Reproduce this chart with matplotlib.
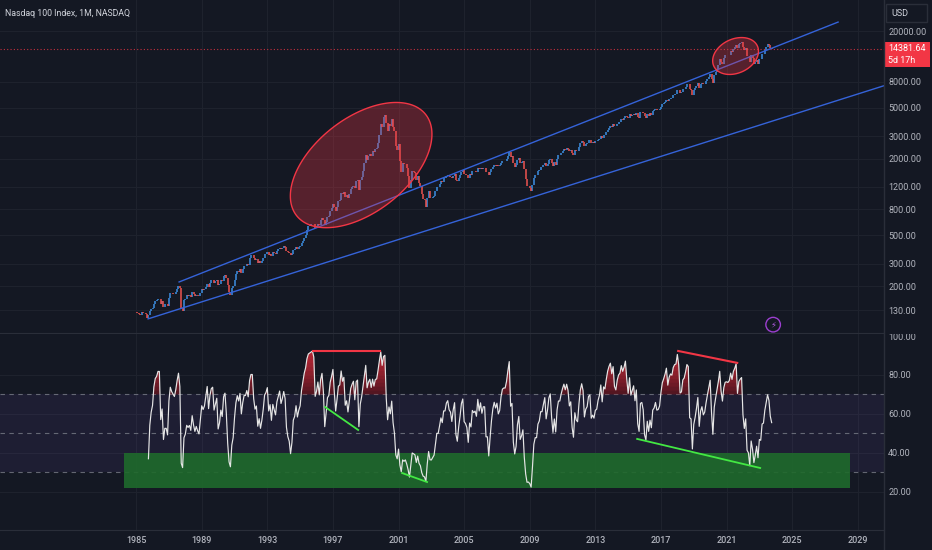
import numpy as np
import pandas as pd
import matplotlib
matplotlib.use('Agg')
import matplotlib.pyplot as plt
from matplotlib.patches import Rectangle
from matplotlib.lines import Line2D
from matplotlib.ticker import NullLocator
from matplotlib.transforms import Bbox, TransformedBbox

plt.rcParams['font.family'] = ['Roboto', 'DejaVu Sans']

title = 'Nasdaq 100 Index, 1M, NASDAQ'
first_month = '1985-01'
# monthly closes, one row per year
monthly_close = [
    125, 124, 121, 120, 125, 124, 124, 121, 113, 118, 127, 132,            # 1985
    135, 146, 153, 155, 160, 160, 146, 152, 138, 144, 144, 141,            # 1986
    163, 178, 176, 175, 174, 180, 190, 200, 195, 135, 128, 156,            # 1987
    160, 170, 168, 170, 166, 180, 173, 168, 172, 169, 167, 177,            # 1988
    189, 187, 190, 199, 210, 199, 213, 222, 224, 212, 218, 224,            # 1989
    205, 210, 222, 218, 240, 245, 232, 205, 180, 172, 192, 200,            # 1990
    225, 250, 265, 260, 275, 255, 275, 290, 290, 300, 295, 331,            # 1991
    350, 350, 330, 320, 325, 305, 315, 305, 315, 330, 355, 360,            # 1992
    370, 350, 360, 345, 370, 365, 360, 380, 390, 400, 390, 398,            # 1993
    410, 405, 380, 370, 365, 350, 360, 385, 390, 405, 395, 404,            # 1994
    410, 435, 455, 480, 500, 550, 590, 600, 610, 620, 615, 576,            # 1995
    590, 620, 605, 660, 690, 665, 600, 640, 700, 710, 780, 821,            # 1996
    880, 830, 780, 840, 930, 940, 1080, 1050, 1090, 1000, 1030, 991,       # 1997
    1060, 1160, 1200, 1230, 1170, 1340, 1360, 1140, 1350, 1440, 1600, 1836,  # 1998
    2130, 1960, 2100, 2170, 2110, 2300, 2250, 2400, 2410, 2640, 3040, 3708,  # 1999
    3570, 4270, 4400, 3770, 3320, 3760, 3610, 4080, 3570, 3280, 2510, 2342,  # 2000
    2590, 1910, 1570, 1860, 1800, 1830, 1680, 1470, 1170, 1370, 1600, 1577,  # 2001
    1550, 1360, 1450, 1280, 1220, 1050, 960, 940, 830, 990, 1120, 984,     # 2002
    980, 1000, 1020, 1110, 1200, 1200, 1260, 1330, 1300, 1400, 1400, 1468,  # 2003
    1490, 1450, 1440, 1400, 1470, 1520, 1370, 1330, 1410, 1480, 1580, 1621,  # 2004
    1510, 1500, 1480, 1400, 1510, 1490, 1600, 1590, 1600, 1580, 1690, 1645,  # 2005
    1700, 1660, 1700, 1700, 1580, 1580, 1480, 1560, 1650, 1730, 1780, 1757,  # 2006
    1790, 1750, 1770, 1860, 1920, 1930, 1930, 1980, 2090, 2240, 2060, 2085,  # 2007
    1840, 1730, 1780, 1950, 2030, 1840, 1870, 1920, 1650, 1390, 1210, 1212,  # 2008
    1180, 1110, 1240, 1420, 1480, 1480, 1600, 1630, 1720, 1720, 1790, 1860,  # 2009
    1740, 1820, 1950, 2000, 1860, 1750, 1870, 1770, 2000, 2120, 2120, 2218,  # 2010
    2300, 2370, 2340, 2420, 2390, 2310, 2350, 2200, 2130, 2340, 2290, 2278,  # 2011
    2450, 2640, 2750, 2710, 2530, 2620, 2650, 2780, 2800, 2650, 2680, 2661,  # 2012
    2730, 2740, 2820, 2870, 2990, 2910, 3090, 3080, 3220, 3380, 3500, 3592,  # 2013
    3540, 3710, 3600, 3580, 3740, 3850, 3890, 4080, 4050, 4150, 4340, 4236,  # 2014
    4150, 4460, 4330, 4420, 4510, 4400, 4590, 4270, 4180, 4650, 4670, 4593,  # 2015
    4280, 4200, 4480, 4340, 4520, 4420, 4730, 4770, 4880, 4800, 4810, 4864,  # 2016
    5100, 5330, 5440, 5580, 5790, 5650, 5880, 5990, 5980, 6250, 6370, 6396,  # 2017
    6950, 6860, 6580, 6610, 6970, 7040, 7270, 7650, 7630, 6970, 6950, 6330,  # 2018
    6900, 7100, 7380, 7780, 7130, 7670, 7850, 7660, 7750, 8080, 8400, 8733,  # 2019
    9150, 8460, 7810, 9000, 9560, 10160, 10900, 12110, 11420, 11050, 12270, 12888,  # 2020
    12930, 12910, 13090, 13860, 13690, 14550, 14960, 15580, 14690, 15850, 16140, 16320,  # 2021
    14930, 14240, 14840, 12850, 12640, 11500, 12950, 12270, 10970, 11400, 11950, 10940,  # 2022
    12100, 12040, 13180, 13250, 14250, 14950, 15750, 15500, 14720, 14381.64,  # 2023
]
last_price = 14381.64
countdown = '5d 17h'
rsi_length = 9

price_ticks = [130, 200, 300, 500, 800, 1200, 2000, 3000, 5000, 8000, 20000]
rsi_ticks = [20, 40, 60, 80]
rsi_levels = [70, 50, 30]
year_ticks = list(range(1985, 2030, 4))

# trend lines (year, price)
upper_trend_x = [1987.62, 2027.8]
upper_trend_y = [216, 23500]
lower_trend_x = [1985.73, 2031.5]
lower_trend_y = [111, 8110]

# highlighted zones: centre year, centre price, semi axes (px), tilt (deg)
zone_year = [1998.72, 2021.55]
zone_price = [1780, 12740]
zone_a = [82, 24]
zone_b = [47, 17]
zone_tilt = [38, 25]

# rsi divergence lines
red_lines = [([1995.79, 1999.88], [92.3, 92.3]),
             ([2018.05, 2021.65], [92.3, 86.2])]
green_lines = [([1996.52, 1998.54], [63.6, 51.8]),
               ([2001.22, 2002.74], [29.7, 25.1]),
               ([2015.55, 2023.05], [47.2, 32.3])]
box_years = [1984.27, 2028.5]
box_rsi = [22, 40]

BG = '#141823'
GRID = '#1e222d'
BORDER = '#2a2e39'
TXT = '#b2b5be'
UP = '#3d90e3'
DOWN = '#ef5350'
RED = '#f23645'

closes = np.array(monthly_close, dtype=float)
dates = pd.date_range(first_month, periods=len(closes), freq='MS')
xs = dates.year + (dates.month - 1) / 12.0
opens = np.concatenate([[closes[0]], closes[:-1]])


def rsi(c, n=14):
    d = np.diff(c)
    g = np.clip(d, 0, None)
    l = np.clip(-d, 0, None)
    out = np.full(len(c), np.nan)
    ag = g[:n].mean()
    al = l[:n].mean()
    out[n] = 100 - 100 / (1 + ag / al)
    for i in range(n, len(d)):
        ag = (ag * (n - 1) + g[i]) / n
        al = (al * (n - 1) + l[i]) / n
        out[i + 1] = 100 if al == 0 else 100 - 100 / (1 + ag / al)
    return out


r = rsi(closes, rsi_length)

W, H = 932, 550
fig = plt.figure(figsize=(W / 100, H / 100), dpi=100, facecolor=BG)
ax1 = fig.add_axes([0, 1 - 333 / H, 884 / W, 333 / H], facecolor=BG)
ax2 = fig.add_axes([0, 20 / H, 884 / W, 196 / H], facecolor=BG, sharex=ax1)

xmin, xmax = 1976.7, 2030.6
ymin, ymax = 86, 35000
ax1.set_xlim(xmin, xmax)
ax1.set_yscale('log')
ax1.set_ylim(ymin, ymax)
ax2.set_ylim(0.5, 101)

for ax in (ax1, ax2):
    for s in ax.spines.values():
        s.set_visible(False)
    ax.spines['bottom'].set_visible(True)
    ax.spines['bottom'].set_color(BORDER)
    ax.yaxis.tick_right()
    ax.tick_params(axis='both', length=0, labelsize=6.5, labelcolor=TXT)
    ax.grid(True, color=GRID, lw=0.8)
    ax.set_axisbelow(True)

ax1.set_xticks(year_ticks)
ax1.tick_params(axis='x', labelbottom=False)
ax1.yaxis.set_minor_locator(NullLocator())
ax1.set_yticks(price_ticks)
ax1.set_yticklabels([f'{v:.2f}' for v in price_ticks])
ax1.tick_params(axis='y', pad=3)

ax2.set_yticks(rsi_ticks)
ax2.set_yticklabels([f'{v:.2f}' for v in rsi_ticks])
ax2.tick_params(axis='y', pad=3)
ax2.tick_params(axis='x', pad=4.5)
ax2.set_xticks(year_ticks)
ax2.set_xticklabels([str(y) for y in year_ticks], fontweight='medium')

# candles (body from previous close)
up = closes >= opens
ax1.vlines(xs[up], opens[up], closes[up], colors=UP, lw=1.1, zorder=3)
ax1.vlines(xs[~up], opens[~up], closes[~up], colors=DOWN, lw=1.1, zorder=3)

# trend lines
ax1.plot(upper_trend_x, upper_trend_y, color='#3563d9', lw=1, zorder=4)
ax1.plot(lower_trend_x, lower_trend_y, color='#3563d9', lw=1, zorder=4)

# ellipses drawn in pixel space around data centres
ppy = 884 / (xmax - xmin)
ppd = 333 / (np.log10(ymax) - np.log10(ymin))
t = np.linspace(0, 2 * np.pi, 200)
for cx, cy, a, b, tilt in zip(zone_year, zone_price, zone_a, zone_b, zone_tilt):
    th = np.radians(tilt)
    dx = a * np.cos(t) * np.cos(th) - b * np.sin(t) * np.sin(th)
    dy = a * np.cos(t) * np.sin(th) + b * np.sin(t) * np.cos(th)
    ex = cx + dx / ppy
    ey = 10 ** (np.log10(cy) + dy / ppd)
    ax1.fill(ex, ey, facecolor=(0.95, 0.21, 0.27, 0.3), edgecolor=RED, lw=1, zorder=5)

# last price line
ax1.axhline(last_price, color=RED, lw=0.8, ls=(0, (1, 2)), alpha=0.8, zorder=2)

# lightning icon
ax1.scatter([2023.84], [100], s=110, facecolor='none', edgecolor='#9c3fd0', lw=1, zorder=6)
ax1.text(2023.84, 100, '\u26a1', color='#b05ae0', fontsize=6, ha='center', va='center',
         family='DejaVu Sans', zorder=7)

# rsi pane
ax2.axhspan(30, 70, color='#7e57c2', alpha=0.1, lw=0, zorder=1)
for lv in rsi_levels:
    ax2.axhline(lv, color='#787b86', lw=0.8, ls=(0, (4, 4)), alpha=0.8, zorder=2)
ax2.add_patch(Rectangle((box_years[0], box_rsi[0]), box_years[1] - box_years[0],
                        box_rsi[1] - box_rsi[0], facecolor='#1f6a2c', alpha=0.9,
                        lw=0, zorder=3))

ok = ~np.isnan(r)
rx, ry = xs[ok], r[ok]
ax2.fill_between(rx, 70, ry, where=ry > 70, interpolate=True, color='#8a1520',
                 alpha=0.55, lw=0, zorder=4)
for lv in np.arange(72, 100, 2):
    ax2.fill_between(rx, lv, ry, where=ry > lv, interpolate=True, color=RED,
                     alpha=0.09, lw=0, zorder=4)
ax2.fill_between(rx, 30, ry, where=ry < 30, interpolate=True, color='#1b5e20',
                 alpha=0.5, lw=0, zorder=4)
ax2.plot(rx, ry, color='#e6e6e6', lw=0.85, zorder=6)

for lx, ly in red_lines:
    ax2.plot(lx, ly, color=RED, lw=1.5, zorder=7)
for lx, ly in green_lines:
    ax2.plot(lx, ly, color='#43e843', lw=1.3, zorder=7)

# frame pieces outside the panes
fig.add_artist(Line2D([884 / W, 884 / W], [0, 1], color=BORDER, lw=1))
fig.text(5 / W, 1 - 13 / H, title, color='#d1d4dc', fontsize=6.3, va='center')

fig.patches.append(Rectangle((886 / W, 1 - 22 / H), 41 / W, 18 / H, transform=fig.transFigure,
                             fill=False, edgecolor=BORDER, lw=1))
fig.text(891 / W, 1 - 13 / H, 'USD', color='#d1d4dc', fontsize=6.5, va='center')

fig.patches.append(Rectangle((885 / W, 1 - 67 / H), 45 / W, 25 / H, transform=fig.transFigure,
                             facecolor=RED, edgecolor='none'))
fig.text(888 / W, 1 - 48.5 / H, f'{last_price:.2f}', color='white', fontsize=6.5, va='center')
fig.text(888 / W, 1 - 60.5 / H, countdown, color='white', fontsize=6.5, va='center')

top_lbl = fig.text(888 / W, 1 - 337 / H, '100.00', color=TXT, fontsize=6.5, va='center')
top_lbl.set_clip_box(TransformedBbox(Bbox([[884 / W, 20 / H], [1, 216 / H]]), fig.transFigure))
top_lbl.set_clip_on(True)

fig.savefig('out.png', dpi=100, facecolor=BG)
